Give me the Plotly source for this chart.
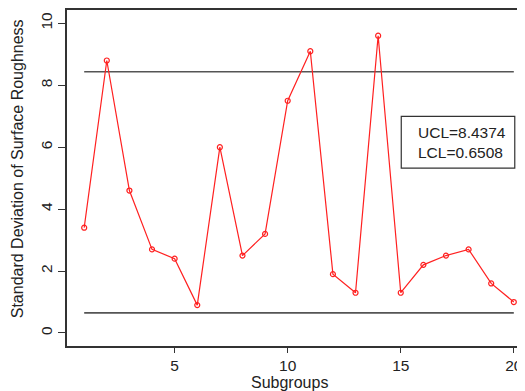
import plotly.graph_objects as go

subgroups = list(range(1, 21))
std_dev = [3.4, 8.8, 4.6, 2.7, 2.4, 0.9, 6.0, 2.5, 3.2, 7.5,
           9.1, 1.9, 1.3, 9.6, 1.3, 2.2, 2.5, 2.7, 1.6, 1.0]
ucl = 8.4374
lcl = 0.6508
y_ticks = [0, 2, 4, 6, 8, 10]
x_ticks = [5, 10, 15, 20]

font_fam = "Liberation Sans, Arial, sans-serif"
txt = "#222222"

# page offset of 8px (browser body margin); plot area on page: x 67..533, y 8..346
PW = 466.0
PH = 338.0


def px(xp):
    return (xp - 67) / PW


def py(yp):
    return (346 - yp) / PH


fig = go.Figure()
fig.add_trace(go.Scatter(x=[subgroups[0], subgroups[-1]], y=[ucl, ucl], mode="lines",
                         line=dict(color="#555555", width=1.6), hoverinfo="skip"))
fig.add_trace(go.Scatter(x=[subgroups[0], subgroups[-1]], y=[lcl, lcl], mode="lines",
                         line=dict(color="#555555", width=1.6), hoverinfo="skip"))
fig.add_trace(go.Scatter(x=subgroups, y=std_dev, mode="lines+markers",
                         line=dict(color="#ff2020", width=1.2),
                         marker=dict(symbol="circle-open", size=5, color="#ff2020",
                                     line=dict(width=1.2, color="#ff2020"))))

fig.update_layout(
    width=525, height=391,
    margin=dict(l=59, r=0, t=0, b=53),
    paper_bgcolor="white", plot_bgcolor="white",
    showlegend=False,
    font=dict(family=font_fam, size=16, color=txt),
    xaxis=dict(range=[0.24, 20.76], tickvals=x_ticks, ticks="outside", ticklen=5,
               tickcolor="#333", showline=True, linecolor="#333", linewidth=1.6,
               mirror=True, showgrid=False, zeroline=False,
               tickfont=dict(size=15.5, color=txt)),
    yaxis=dict(range=[-0.42, 10.43], tickvals=y_ticks, ticks="outside", ticklen=7,
               tickcolor="#333", showline=True, linecolor="#333", linewidth=1.6,
               mirror=True, showgrid=False, zeroline=False, tickangle=-90,
               tickfont=dict(size=15.5, color=txt)),
    annotations=[
        dict(text="Subgroups", xref="paper", yref="paper", x=px(290), y=py(383),
             showarrow=False, xanchor="center", yanchor="middle", font=dict(size=16, color=txt)),
        dict(text="Standard Deviation of Surface Roughness", xref="paper", yref="paper",
             x=px(17), y=py(168), textangle=-90,
             showarrow=False, xanchor="center", yanchor="middle", font=dict(size=16, color=txt)),
        dict(text="UCL=8.4374<br>LCL=0.6508", xref="paper", yref="paper",
             x=px(418), y=py(141), align="left",
             showarrow=False, xanchor="left", yanchor="middle", font=dict(size=15.5, color=txt)),
    ],
    shapes=[dict(type="rect", xref="paper", yref="paper",
                 x0=px(402.7), x1=px(516.7),
                 y0=py(167), y1=py(115),
                 line=dict(color="#333", width=1.2))],
)

fig.write_html("out.html")
